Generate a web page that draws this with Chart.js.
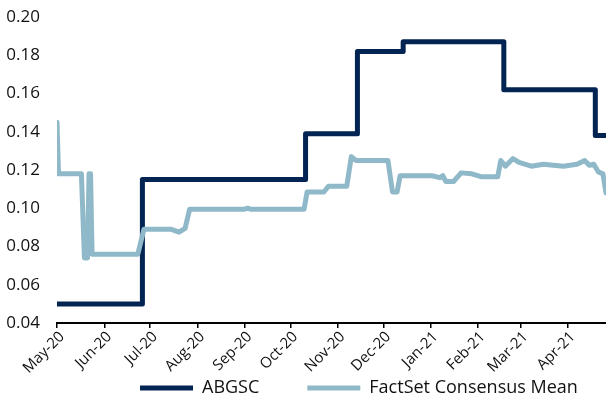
<!DOCTYPE html>
<html>
<head>
<meta charset="utf-8">
<script src="https://cdn.jsdelivr.net/npm/chart.js@4.4.0/dist/chart.umd.min.js"></script>
<style>
  html, body { margin: 0; padding: 0; background: #fff; }
  canvas { display: block; }
</style>
</head>
<body>
<canvas id="chart" width="606" height="399"></canvas>
<script>
// month ticks on the x axis
const monthStarts = ['2020-05-01', '2020-06-01', '2020-07-01', '2020-08-01', '2020-09-01', '2020-10-01',
                     '2020-11-01', '2020-12-01', '2021-01-01', '2021-02-01', '2021-03-01', '2021-04-01'];
const monthLabels = ['May-20', 'Jun-20', 'Jul-20', 'Aug-20', 'Sep-20', 'Oct-20',
                     'Nov-20', 'Dec-20', 'Jan-21', 'Feb-21', 'Mar-21', 'Apr-21'];

// ABGSC estimate, value holds from each date until the next one
const abgscDates = ['2020-05-01', '2020-06-26', '2020-10-11', '2020-11-14', '2020-12-14',
                    '2021-02-18', '2021-04-19', '2021-04-26'];
const abgscValues = [0.05, 0.115, 0.139, 0.182, 0.187, 0.162, 0.138, 0.138];

// FactSet consensus mean
const consensusDates = ['2020-05-01', '2020-05-02', '2020-05-17', '2020-05-19', '2020-05-21', '2020-05-22',
  '2020-05-23', '2020-05-24', '2020-06-23', '2020-06-27', '2020-07-15', '2020-07-20', '2020-07-24',
  '2020-07-27', '2020-09-01', '2020-09-03', '2020-09-05', '2020-10-10', '2020-10-12', '2020-10-23',
  '2020-10-26', '2020-11-07', '2020-11-10', '2020-11-13', '2020-12-04', '2020-12-07', '2020-12-10',
  '2020-12-12', '2021-01-02', '2021-01-07', '2021-01-09', '2021-01-11', '2021-01-16', '2021-01-21',
  '2021-01-28', '2021-02-03', '2021-02-14', '2021-02-16', '2021-02-19', '2021-02-24', '2021-02-28',
  '2021-03-08', '2021-03-16', '2021-03-29', '2021-04-07', '2021-04-12', '2021-04-15', '2021-04-18',
  '2021-04-21', '2021-04-24', '2021-04-26'];
const consensusValues = [0.145, 0.118, 0.118, 0.074, 0.074, 0.118,
  0.118, 0.076, 0.076, 0.089, 0.089, 0.0875, 0.0895,
  0.0995, 0.0995, 0.1, 0.0995, 0.0995, 0.1085, 0.1085,
  0.1115, 0.1115, 0.127, 0.125, 0.125, 0.1085, 0.1085,
  0.117, 0.117, 0.116, 0.117, 0.114, 0.114, 0.1185,
  0.118, 0.1165, 0.1165, 0.125, 0.122, 0.126, 0.124,
  0.122, 0.123, 0.122, 0.123, 0.125, 0.1225, 0.123,
  0.119, 0.118, 0.108];

const NAVY = '#022452';
const LIGHT = '#8fb9c8';
const FONT = 'Open Sans';
const TEXT = '#111';

const DAY_MS = 86400000;
const ORIGIN = Date.UTC(2020, 4, 1);
function toDay(s) {
  const [y, m, d] = s.split('-').map(Number);
  return (Date.UTC(y, m - 1, d) - ORIGIN) / DAY_MS;
}
function toPoints(dates, values) {
  return dates.map((d, i) => ({ x: toDay(d), y: values[i] }));
}

// the built-in legend only knows start/center/end and ties the row gap to
// its top padding, so move its box into place after layout
const legendShift = {
  id: 'legendShift',
  afterLayout(chart) {
    const lg = chart.legend;
    lg.left += 92;
    lg.right += 92;
    lg.top -= 48;
  }
};

new Chart(document.getElementById('chart'), {
  type: 'line',
  data: {
    datasets: [
      {
        label: 'ABGSC',
        data: toPoints(abgscDates, abgscValues),
        borderColor: NAVY,
        backgroundColor: NAVY,
        borderWidth: 5,
        stepped: true,
        pointRadius: 0,
        borderCapStyle: 'round',
        borderJoinStyle: 'round',
        order: 1
      },
      {
        label: 'FactSet Consensus Mean',
        data: toPoints(consensusDates, consensusValues),
        borderColor: LIGHT,
        backgroundColor: LIGHT,
        borderWidth: 5,
        tension: 0,
        pointRadius: 0,
        borderCapStyle: 'round',
        borderJoinStyle: 'round',
        order: 0
      }
    ]
  },
  options: {
    responsive: false,
    animation: false,
    layout: { padding: { top: 17, left: 0, right: 0, bottom: 0 } },
    scales: {
      x: {
        type: 'linear',
        min: 0,
        max: toDay(abgscDates[abgscDates.length - 1]),
        afterBuildTicks: scale => {
          scale.ticks = monthStarts.map(d => ({ value: toDay(d) }));
        },
        afterFit: scale => { scale.height = 56; },
        ticks: {
          autoSkip: false,
          minRotation: 45,
          maxRotation: 45,
          padding: 0,
          labelOffset: 5,
          color: TEXT,
          font: { family: FONT, size: 15 },
          callback: (v, i) => monthLabels[i]
        },
        grid: {
          display: true,
          drawOnChartArea: false,
          drawTicks: true,
          tickLength: 5,
          color: '#000',
          lineWidth: 1.5
        },
        border: { display: true, color: '#000', width: 2 }
      },
      y: {
        min: 0.04,
        max: 0.20,
        afterFit: scale => { scale.width = 57; },
        ticks: {
          stepSize: 0.02,
          padding: 2,
          color: TEXT,
          font: { family: FONT, size: 17 },
          callback: v => v.toFixed(2)
        },
        // hidden grid, the tick length only keeps labels off the plot
        grid: { display: false, drawTicks: true, tickLength: 15 },
        border: { display: false }
      }
    },
    plugins: {
      legend: {
        position: 'bottom',
        align: 'start',
        maxHeight: 20,
        labels: {
          usePointStyle: true,
          pointStyle: 'line',
          pointStyleWidth: 53,
          padding: 48,
          color: TEXT,
          font: { family: FONT, size: 18 },
          sort: (a, b) => a.datasetIndex - b.datasetIndex
        }
      },
      tooltip: { enabled: false }
    }
  },
  plugins: [legendShift]
});
</script>
</body>
</html>
